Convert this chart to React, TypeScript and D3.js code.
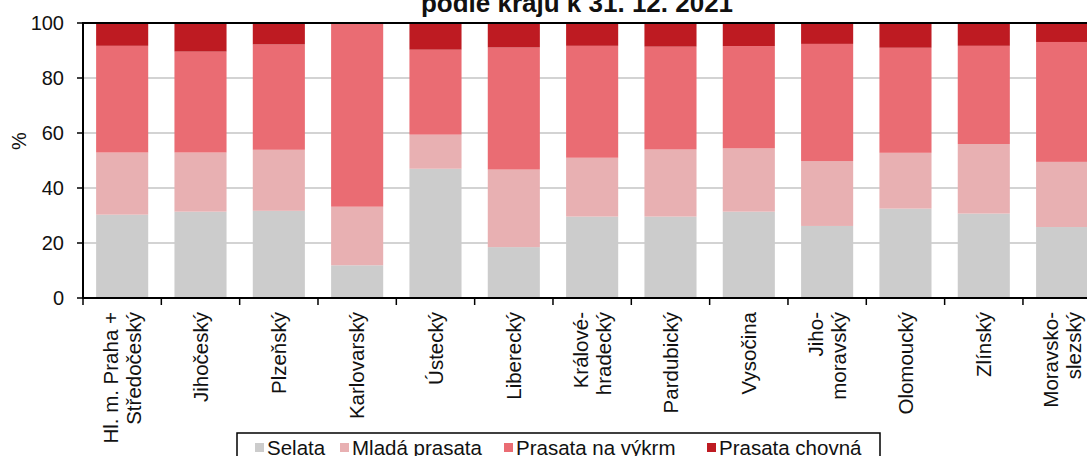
import { useMemo } from "react";
import * as d3 from "d3";

const W = 1087;
const H = 456;

const regions = [
  "Hl. m. Praha +\nStředočeský",
  "Jihočeský",
  "Plzeňský",
  "Karlovarský",
  "Ústecký",
  "Liberecký",
  "Králové-\nhradecký",
  "Pardubický",
  "Vysočina",
  "Jiho-\nmoravský",
  "Olomoucký",
  "Zlínský",
  "Moravsko-\nslezský",
];

const seriesNames = ["Selata", "Mladá prasata", "Prasata na výkrm", "Prasata chovná"];
const seriesColors = ["#cccccc", "#e8b0b2", "#ea6c73", "#be1b22"];

const selata = [30.3, 31.4, 31.7, 11.9, 47.0, 18.5, 29.6, 29.6, 31.4, 26.2, 32.5, 30.7, 25.8];
const mlada = [22.6, 21.5, 22.2, 21.3, 12.4, 28.2, 21.4, 24.4, 23.0, 23.6, 20.3, 25.3, 23.7];
const vykrm = [38.8, 36.7, 38.3, 66.8, 30.9, 44.4, 40.7, 37.4, 37.2, 42.6, 38.2, 35.7, 43.6];
const chovna = [8.3, 10.4, 7.8, 0.0, 9.7, 8.9, 8.3, 8.6, 8.4, 7.6, 9.0, 8.3, 6.9];

const yTicks = [0, 20, 40, 60, 80, 100];

const FONT = "Arial, 'Liberation Sans', sans-serif";

// legend layout (swatch x positions)
const legendX = [255, 340, 504, 707];

export default function App() {
  const left = 83;
  const top = 23;
  const bottom = 298;
  const step = 78.33;

  const x = d3
    .scaleBand<string>()
    .domain(regions)
    .range([left, left + step * regions.length])
    .paddingInner(0.335)
    .paddingOuter(0.1675);
  const y = d3.scaleLinear().domain([0, 100]).range([bottom, top]);

  const stacked = useMemo(() => {
    const rows = regions.map((r, i) => ({
      region: r,
      s0: selata[i],
      s1: mlada[i],
      s2: vykrm[i],
      s3: chovna[i],
    }));
    return d3.stack<any>().keys(["s0", "s1", "s2", "s3"])(rows);
  }, []);

  const tickXs = regions.map((r) => (x(r) as number) - x.step() * x.paddingOuter());
  tickXs.push(left + step * regions.length);

  return (
    <svg
      width={W}
      height={H}
      style={{ position: "absolute", left: 0, top: 0, background: "#fff" }}
      fontFamily={FONT}
    >
      {/* title (second line visible) */}
      <text x={577} y={12} textAnchor="middle" fontSize={26} fontWeight="bold" fill="#111">
        podle krajů k 31. 12. 2021
      </text>

      {/* gridlines */}
      {yTicks
        .filter((t) => t > 0 && t < 100)
        .map((t) => (
          <line key={t} x1={left} x2={W} y1={y(t)} y2={y(t)} stroke="#c4c4c4" strokeWidth={1.5} />
        ))}

      {/* bars */}
      {stacked.map((layer, si) => (
        <g key={si} fill={seriesColors[si]}>
          {layer.map((d: any, i: number) => (
            <rect
              key={i}
              x={x(regions[i])}
              y={y(d[1])}
              width={x.bandwidth()}
              height={Math.max(0, y(d[0]) - y(d[1]))}
            />
          ))}
        </g>
      ))}

      {/* plot border & axes */}
      <line x1={left} x2={W} y1={top} y2={top} stroke="#000" strokeWidth={2} />
      <line x1={left} x2={left} y1={top - 1} y2={bottom + 1} stroke="#000" strokeWidth={2} />
      <line x1={left - 1} x2={W} y1={bottom} y2={bottom} stroke="#000" strokeWidth={2} />

      {/* y ticks */}
      {yTicks.map((t) => (
        <g key={t}>
          <line x1={left - 6} x2={left} y1={y(t)} y2={y(t)} stroke="#000" strokeWidth={1.5} />
          <text x={64} y={y(t)} dy="0.35em" textAnchor="end" fontSize={20} fill="#111">
            {t}
          </text>
        </g>
      ))}
      <text
        transform={`translate(19,141) rotate(-90)`}
        textAnchor="middle"
        dy="0.35em"
        fontSize={20}
        fill="#111"
      >
        %
      </text>

      {/* x ticks */}
      {tickXs.map((tx, i) => (
        <line key={i} x1={tx} x2={tx} y1={bottom} y2={bottom + 7} stroke="#000" strokeWidth={1.5} />
      ))}
      {regions.map((r) => {
        const lines = r.split("\n");
        const cx = (x(r) as number) + x.bandwidth() / 2;
        const lh = 23;
        return (
          <text
            key={r}
            transform={`translate(${cx},312) rotate(-90)`}
            textAnchor="end"
            fontSize={20.5}
            fill="#111"
          >
            {lines.map((l, i) => (
              <tspan key={i} x={0} y={(i - (lines.length - 1) / 2) * lh} dy="0.35em">
                {l}
              </tspan>
            ))}
          </text>
        );
      })}

      {/* legend */}
      <rect x={237} y={433} width={643} height={40} fill="#fff" stroke="#000" strokeWidth={1.5} />
      {seriesNames.map((n, i) => (
        <g key={n}>
          <rect x={legendX[i]} y={443} width={9} height={9} fill={seriesColors[i]} />
          <text x={legendX[i] + 12} y={455} fontSize={20.5} fill="#111">
            {n}
          </text>
        </g>
      ))}
    </svg>
  );
}
